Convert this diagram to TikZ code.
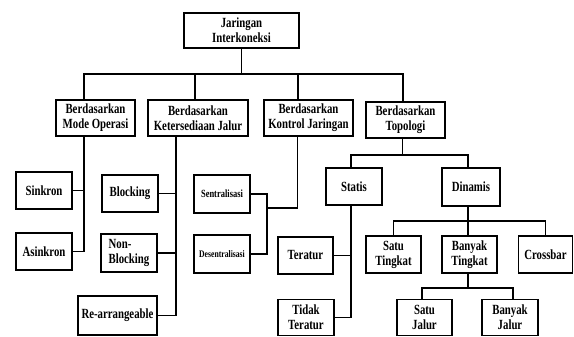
\documentclass[tikz,border=0pt]{standalone}
\usepackage{fontspec}
\setmainfont{Liberation Serif}[FakeStretch=0.77]
\usepackage{tikz}
\tikzset{
  kotak/.style={draw, line width=1.4pt, inner sep=1pt, outer sep=0pt, align=center,
    font=\fontsize{14}{15}\selectfont\bfseries},
  garis/.style={line width=1.4pt}
}

\begin{document}
\begin{tikzpicture}[x=1pt,y=-1pt]
            \useasboundingbox (0,0) rectangle (574,337);
            % level 0 and 1
            \node[kotak,minimum width=115pt,minimum height=35pt] (root) at (241.5,30.5) {Jaringan\\Interkoneksi};
            \node[kotak,minimum width=79pt,minimum height=36pt] (mode) at (95.5,118) {Berdasarkan\\Mode Operasi};
            \node[kotak,minimum width=100pt,minimum height=36pt] (keter) at (198,118) {Berdasarkan\\Ketersediaan Jalur};
            \node[kotak,minimum width=89pt,minimum height=36pt] (kontrol) at (308.5,118) {Berdasarkan\\Kontrol Jaringan};
            \node[kotak,minimum width=79pt,minimum height=36pt] (topo) at (405.5,120) {Berdasarkan\\Topologi};
            % level 2
            \node[kotak,minimum width=56pt,minimum height=37pt] (sinkron) at (44,190.5) {Sinkron};
            \node[kotak,minimum width=56pt,minimum height=37pt] (asinkron) at (44,251.5) {Asinkron};
            \node[kotak,minimum width=56pt,minimum height=37pt] (blocking) at (130,193.5) {Blocking};
            \node[kotak,minimum width=56pt,minimum height=38pt,align=left] (nonblock) at (129,253) {Non-\\Blocking};
            \node[kotak,minimum width=79pt,minimum height=39pt] (rearr) at (117.5,315.5) {Re-arrangeable};
            \node[kotak,minimum width=56pt,minimum height=38pt,font=\fontsize{11}{12}\selectfont\bfseries] (sentral) at (222,194) {Sentralisasi};
            \node[kotak,minimum width=56pt,minimum height=38pt,font=\fontsize{10}{12}\selectfont\bfseries] (desentral) at (222,254) {Desentralisasi};
            \node[kotak,minimum width=56pt,minimum height=37pt] (statis) at (354,186.5) {Statis};
            \node[kotak,minimum width=58pt,minimum height=38pt] (dinamis) at (471,187) {Dinamis};
            % level 3
            \node[kotak,minimum width=55pt,minimum height=37pt] (teratur) at (305.5,255.5) {Teratur};
            \node[kotak,minimum width=56pt,minimum height=36pt] (tidak) at (306,317.5) {Tidak\\Teratur};
            \node[kotak,minimum width=55pt,minimum height=37pt] (satutk) at (393.5,254.5) {Satu\\Tingkat};
            \node[kotak,minimum width=55pt,minimum height=37pt] (banyaktk) at (469.5,254.5) {Banyak\\Tingkat};
            \node[kotak,minimum width=54pt,minimum height=37pt] (crossbar) at (545.5,254.5) {Crossbar};
            \node[kotak,minimum width=55pt,minimum height=36pt] (satujalur) at (424.5,317.5) {Satu\\Jalur};
            \node[kotak,minimum width=56pt,minimum height=36pt] (banyakjalur) at (510,317.5) {Banyak\\Jalur};
            % connectors
            \draw[garis] (root.south) -- ++(0,26) coordinate (rbus);
            \draw[garis] ([xshift=-11.5pt]mode.north) |- (rbus) -| ([xshift=-2.5pt]topo.north);
            \draw[garis] ([xshift=-3pt]keter.north) -- ([xshift=-3pt]keter.north |- rbus);
            \draw[garis] ([xshift=-10.5pt]kontrol.north) -- ([xshift=-10.5pt]kontrol.north |- rbus);
            \draw[garis] ([xshift=-11.5pt]mode.south) |- (asinkron.east);
            \draw[garis] (sinkron.east) -- ++(12,0);
            \draw[garis] ([xshift=-22pt]keter.south) |- (rearr.east);
            \draw[garis] (blocking.east) -- ++(18,0);
            \draw[garis] (nonblock.east) -- ++(19,0);
            \draw[garis] (sentral.east) -- ++(17,0) coordinate (sdtop) -- (sdtop |- desentral.east) -- (desentral.east);
            \draw[garis] ([xshift=-11pt]kontrol.south) |- ([yshift=-14pt]sdtop);
            \draw[garis] ([xshift=-3pt]topo.south) -- ++(0,17) coordinate (tbus);
            \draw[garis] ([xshift=-3pt]statis.north) |- (tbus) -| ([xshift=-3pt]dinamis.north);
            \draw[garis] ([xshift=-3pt]statis.south) |- (tidak.east);
            \draw[garis] (teratur.east) -- ++(18,0);
            \draw[garis] ([xshift=-3pt]dinamis.south) -- ++(0,15) coordinate (dbus);
            \draw[garis] (satutk.north) |- (dbus) -| (crossbar.north);
            \draw[garis] ([xshift=-1.5pt]banyaktk.north) -- ([xshift=-1.5pt]banyaktk.north |- dbus);
            \draw[garis] ([xshift=-1.5pt]banyaktk.south) -- ++(0,15) coordinate (jbus);
            \draw[garis] ([xshift=-2.5pt]satujalur.north) |- (jbus) -| ([xshift=3pt]banyakjalur.north);
        \end{tikzpicture}
\end{document}
